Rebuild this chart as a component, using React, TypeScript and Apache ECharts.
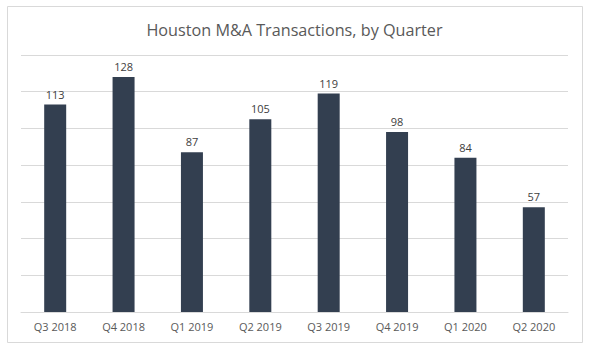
import React, { useEffect, useRef } from "react";
import * as echarts from "echarts";

const categories = ["Q3 2018", "Q4 2018", "Q1 2019", "Q2 2019", "Q3 2019", "Q4 2019", "Q1 2020", "Q2 2020"];
const transactions = [113, 128, 87, 105, 119, 98, 84, 57];
const titleText = "Houston M&A Transactions, by Quarter";

export default function App() {
  const ref = useRef<HTMLDivElement>(null);
  useEffect(() => {
    if (!ref.current) return;
    const chart = echarts.init(ref.current, null, { renderer: "svg" });
    chart.setOption({
      animation: false,
      backgroundColor: "#ffffff",
      title: {
        text: titleText,
        left: "center",
        top: 17,
        textStyle: {
          fontFamily: "Open Sans",
          fontSize: 16.2,
          fontWeight: "normal",
          color: "#595959",
        },
      },
      graphic: [
        {
          type: "rect",
          shape: { x: 7.5, y: 6.5, width: 575, height: 336 },
          style: { fill: "none", stroke: "#D9D9D9", lineWidth: 1 },
          silent: true,
        },
      ],
      grid: { left: 21, right: 21, top: 55, bottom: 39 },
      xAxis: {
        type: "category",
        data: categories,
        axisLine: { show: true, lineStyle: { color: "#D9D9D9" } },
        axisTick: { show: false },
        axisLabel: {
          color: "#595959",
          fontFamily: "Open Sans",
          fontSize: 11,
          margin: 9,
        },
      },
      yAxis: {
        type: "value",
        min: 0,
        max: 140,
        interval: 20,
        axisLabel: { show: false },
        axisLine: { show: false },
        axisTick: { show: false },
        splitLine: { lineStyle: { color: "#D9D9D9" } },
      },
      series: [
        {
          type: "bar",
          data: transactions,
          barWidth: 22,
          itemStyle: { color: "#333F50" },
          label: {
            show: true,
            position: "top",
            distance: 5,
            color: "#404040",
            fontFamily: "Open Sans",
            fontSize: 11,
          },
        },
      ],
    });
    return () => chart.dispose();
  }, []);
  return (
    <div
      ref={ref}
      style={{ position: "fixed", left: 0, top: 0, width: 589, height: 351 }}
    />
  );
}
